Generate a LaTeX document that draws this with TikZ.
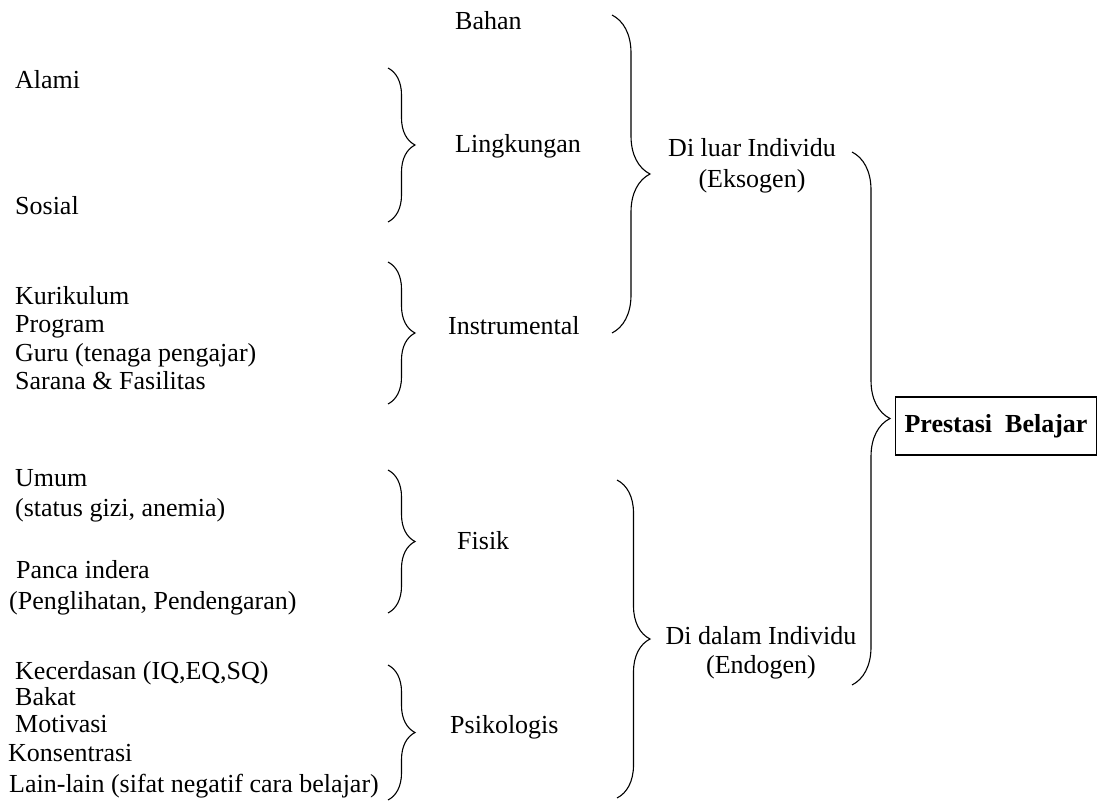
\documentclass[tikz,border=0pt]{standalone}
\usepackage{fontspec}
\setmainfont{Liberation Serif}
\usetikzlibrary{decorations.pathreplacing}

\begin{document}
\begin{tikzpicture}[
    x=1pt, y=-1pt,
    txt/.style={anchor=west, inner sep=0pt, font=\fontsize{26}{29}\selectfont, text height=18pt, text depth=6pt},
    grp/.style={inner sep=0pt, align=center, font=\fontsize{26}{29}\selectfont},
    kurung/.style={decorate, decoration={brace, amplitude=#1}, line width=1.1pt},
    kurung/.default=27pt
]
\useasboundingbox (0,0) rectangle (1099,805);

% ========== 左列：细项 ==========
\node[txt] (alami) at (15,83) {Alami};
\node[txt] (sosial) at (15,208) {Sosial};
\foreach \t/\y [count=\i] in {Kurikulum/298, Program/326, Guru (tenaga pengajar)/355, Sarana \& Fasilitas/383} {
    \node[txt] (ins\i) at (15,\y) {\t};
}
\foreach \x/\y/\t [count=\i] in {15/480/Umum, 15/510/{(status gizi, anemia)}, 16/572/Panca indera, 9/603/{(Penglihatan, Pendengaran)}} {
    \node[txt] (fis\i) at (\x,\y) {\t};
}
\foreach \x/\y/\t [count=\i] in {15/673/{Kecerdasan (IQ,EQ,SQ)}, 15/699/Bakat, 15/726/Motivasi, 8/755/Konsentrasi, 9/786/{Lain-lain (sifat negatif cara belajar)}} {
    \node[txt] (psi\i) at (\x,\y) {\t};
}

% 小括号
\draw[kurung] (388,68) -- (388,222);   % 环境
\draw[kurung] (388,262) -- (388,404);  % 工具
\draw[kurung] (388,470) -- (388,613);  % 身体
\draw[kurung] (388,665) -- (388,800);  % 心理

% ========== 中列 ==========
\node[txt] (bahan) at (455,24) {Bahan};
\node[txt] (lingkungan) at (455,147) {Lingkungan};
\node[txt] (instrumental) at (448,328) {Instrumental};
\node[txt] (fisik) at (457,543) {Fisik};
\node[txt] (psikologis) at (450,727) {Psikologis};

\draw[kurung=38pt] (612,15) -- (612,333);
\draw[kurung=33pt] (617,480) -- (617,798);

% ========== 右列 ==========
\node[grp] (luar) at (752,166) {Di luar Individu\\[2pt](Eksogen)};
\node[grp] (dalam) at (761,653) {Di dalam Individu\\(Endogen)};

\draw[kurung=38pt] (852,152) -- (852,685);

\node[draw, line width=1.1pt, anchor=west, minimum height=58pt, inner xsep=9pt,
      font=\bfseries\fontsize{26}{29}\selectfont] (prestasi) at (895,426) {Prestasi\ \ Belajar};

\end{tikzpicture}
\end{document}
